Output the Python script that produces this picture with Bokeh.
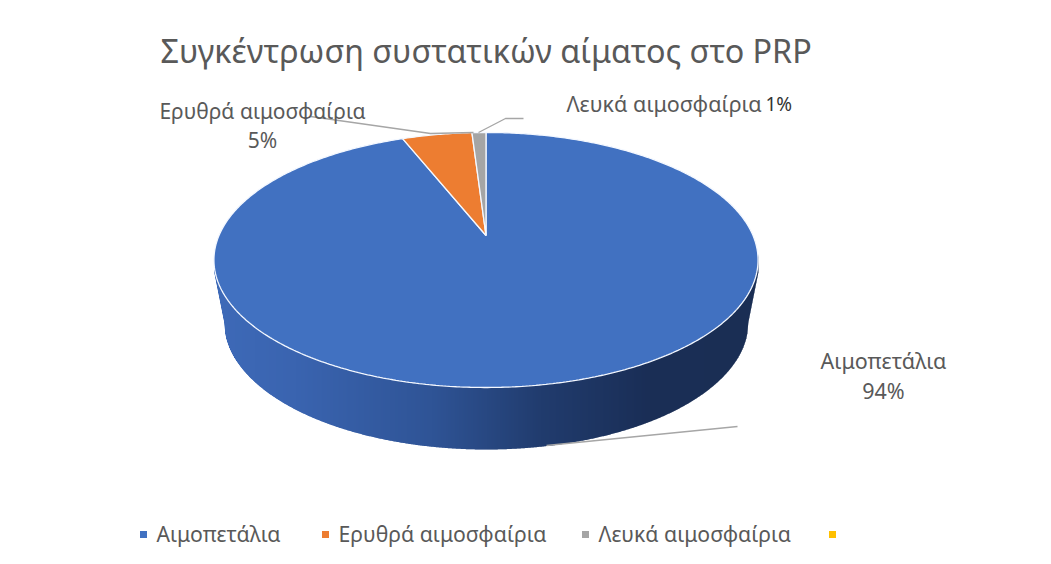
import numpy as np
from bokeh.core.properties import value
from bokeh.embed import file_html
from bokeh.models import Range1d
from bokeh.plotting import figure
from bokeh.resources import INLINE

# Chart content
title = "Συγκέντρωση συστατικών αίματος στο PRP"
categories = ["Αιμοπετάλια", "Ερυθρά αιμοσφαίρια", "Λευκά αιμοσφαίρια", ""]
shares = [94, 5, 1, 0]
colors = ["#4171C1", "#ED7D31", "#A5A5A5", "#FFC000"]

W, H = 1051, 564
FONT = value("Noto Sans")
GREY = "#595959"

p = figure(width=W, height=H, output_backend="svg", toolbar_location=None,
           x_range=Range1d(0, W), y_range=Range1d(H, 0), min_border=0,
           background_fill_color="white", border_fill_color="white", outline_line_color=None)
p.axis.visible = False
p.grid.visible = False

# Tilted disc: a perspective projection of the unit circle, apex at (APEX_X, APEX_Y)
APEX_X, APEX_Y = 485.5, 235.0
PERSP, SCALE_Y = 0.192, 122.8
SCALE_X = 267.0


def rim(theta):
    """Screen position of the disc rim, theta clockwise from twelve o'clock."""
    cx, cy = np.sin(theta), np.cos(theta)
    d = 1 + PERSP * cy
    return APEX_X + SCALE_X * cx / d, APEX_Y - SCALE_Y * cy / d


# Side wall, shaded left to right in thin sloped columns
top_cy, top_ry, top_rx = 259.5, 127.5, 272.0
low_cy, low_ry, low_rx = 322.0, 127.0, 262.0
FLANK_Y = 272.0


def wall_edges(x):
    u = (x - APEX_X) / top_rx
    upper = top_cy + top_ry * np.sqrt(np.clip(1 - u * u, 0, 1))
    v = (x - APEX_X) / low_rx
    lower = low_cy + low_ry * np.sqrt(np.clip(1 - v * v, 0, 1))
    # straight flank joining the two discs at the far left and right
    flank = low_cy - (np.abs(x - APEX_X) - low_rx) / (top_rx - low_rx) * (low_cy - FLANK_Y)
    lower = np.where(np.abs(v) >= 1, flank, lower)
    return upper, np.maximum(upper, lower)


edges = np.arange(APEX_X - top_rx, APEX_X + top_rx + 0.5, 1.0)
stops_x = np.array([0.0, 0.15, 0.4, 0.6, 0.8, 1.0])
stops_rgb = np.array([[62, 106, 184], [58, 100, 176], [47, 84, 150], [33, 60, 110], [26, 46, 86], [26, 46, 84]])
frac = (edges[:-1] - edges[0]) / (edges[-1] - edges[0])
col_colors = ["#%02x%02x%02x" % tuple(int(np.interp(f, stops_x, stops_rgb[:, i])) for i in range(3)) for f in frac]
up, lo = wall_edges(edges)
col_xs = [[a, b + 0.5, b + 0.5, a] for a, b in zip(edges[:-1], edges[1:])]
col_ys = [[u0 - 6, u1 - 6, l1, l0] for u0, u1, l0, l1 in zip(up[:-1], up[1:], lo[:-1], lo[1:])]
p.patches(col_xs, col_ys, fill_color=col_colors, line_color=None)

# Pie wedges from the shares
total = sum(shares)
start = 0.0
xs, ys, fills = [], [], []
for share, color in zip(shares, colors):
    if share == 0:
        continue
    end = start + share / total * 2 * np.pi
    t = np.linspace(start, end, max(3, int(share * 6)))
    rx, ry = rim(t)
    xs.append(np.r_[APEX_X, rx])
    ys.append(np.r_[APEX_Y, ry])
    fills.append(color)
    start = end
p.patches(xs, ys, fill_color=fills, line_color="#F4F8FF", line_width=1.3)

# Leader lines
p.line([310, 430, 473], [116, 133, 132], line_color="#A6A6A6", line_width=1.4)
p.line([478, 505, 523], [132, 118, 118], line_color="#A6A6A6", line_width=1.4)
p.line([546, 737], [445, 426], line_color="#A6A6A6", line_width=1.4)

# Title and data labels
p.text([160], [49], text=[title], text_font=FONT, text_font_size="32.3px", text_color=GREY,
       text_align="left", text_baseline="middle")
pct = [f"{s}%" for s in shares]
p.text([262, 262], [110, 139], text=[categories[1], pct[1]], text_font=FONT, text_font_size="21px",
       text_color=GREY, text_align="center", text_baseline="middle")
p.text([566], [103], text=[categories[2]], text_font=FONT, text_font_size="21.5px",
       text_color=GREY, text_align="left", text_baseline="middle")
p.text([765], [103], text=[pct[2]], text_font=FONT, text_font_size="19px", text_color="#333333",
       text_align="left", text_baseline="middle")
p.text([883, 883], [360, 390], text=[categories[0], pct[0]], text_font=FONT, text_font_size="21.5px",
       text_color=GREY, text_align="center", text_baseline="middle")

# Legend row
legend_x = [143, 325, 585, 832]
p.scatter(legend_x, [534] * 4, marker="square", size=7, fill_color=colors, line_color=None)
p.text([x + 13 for x in legend_x], [533] * 4, text=categories, text_font=FONT, text_font_size="21.2px",
       text_color=GREY, text_align="left", text_baseline="middle")

open("out.html", "w").write(file_html(p, INLINE))
